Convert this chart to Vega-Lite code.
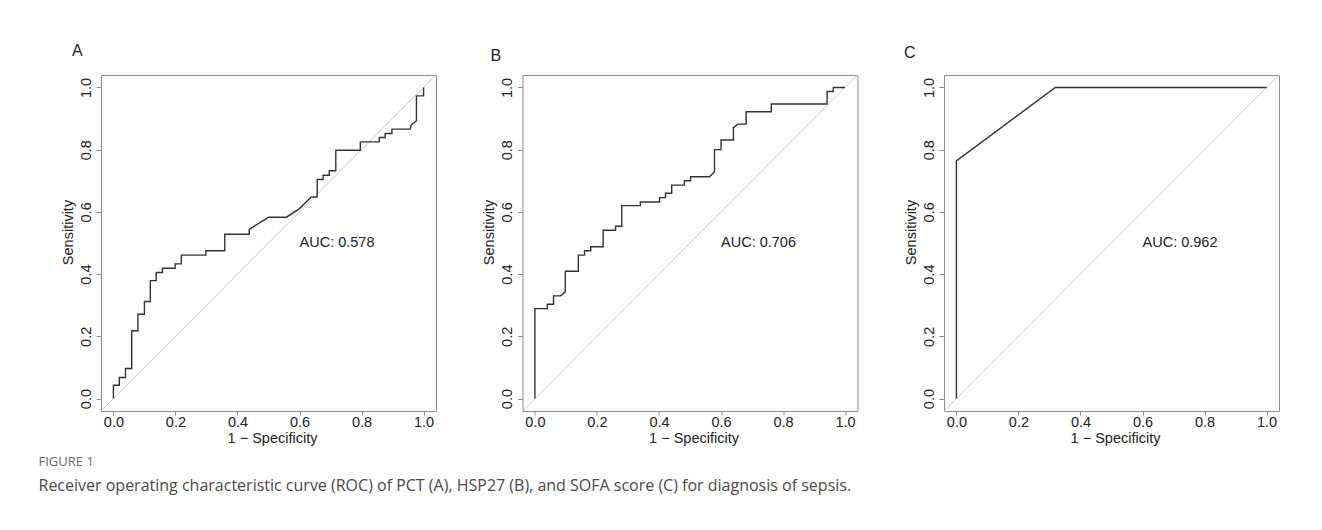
{
  "$schema": "https://vega.github.io/schema/vega-lite/v6.json",
  "padding": {"left": 38, "top": 42, "right": 0, "bottom": 20},
  "background": "white",
  "datasets": {
    "diag": [{"x": -0.04, "y": -0.04}, {"x": 1.04, "y": 1.04}],
    "auc": [
      {"panel": "A", "x": 0.6, "y": 0.5, "label": "AUC: 0.578"},
      {"panel": "B", "x": 0.6, "y": 0.5, "label": "AUC: 0.706"},
      {"panel": "C", "x": 0.6, "y": 0.5, "label": "AUC: 0.962"}
    ],
    "rocA": [
      {"i": 0, "fpr": 0, "tpr": 0}, {"i": 1, "fpr": 0, "tpr": 0.043}, {"i": 2, "fpr": 0.019, "tpr": 0.043},
      {"i": 3, "fpr": 0.019, "tpr": 0.0675}, {"i": 4, "fpr": 0.039, "tpr": 0.0675}, {"i": 5, "fpr": 0.039, "tpr": 0.0965},
      {"i": 6, "fpr": 0.059, "tpr": 0.0965}, {"i": 7, "fpr": 0.059, "tpr": 0.218}, {"i": 8, "fpr": 0.079, "tpr": 0.218},
      {"i": 9, "fpr": 0.079, "tpr": 0.271}, {"i": 10, "fpr": 0.1, "tpr": 0.271}, {"i": 11, "fpr": 0.1, "tpr": 0.312},
      {"i": 12, "fpr": 0.119, "tpr": 0.312}, {"i": 13, "fpr": 0.119, "tpr": 0.379}, {"i": 14, "fpr": 0.138, "tpr": 0.379},
      {"i": 15, "fpr": 0.138, "tpr": 0.405}, {"i": 16, "fpr": 0.158, "tpr": 0.405}, {"i": 17, "fpr": 0.158, "tpr": 0.419},
      {"i": 18, "fpr": 0.199, "tpr": 0.419}, {"i": 19, "fpr": 0.199, "tpr": 0.433}, {"i": 20, "fpr": 0.219, "tpr": 0.433},
      {"i": 21, "fpr": 0.219, "tpr": 0.461}, {"i": 22, "fpr": 0.298, "tpr": 0.461}, {"i": 23, "fpr": 0.298, "tpr": 0.475},
      {"i": 24, "fpr": 0.359, "tpr": 0.475}, {"i": 25, "fpr": 0.359, "tpr": 0.528}, {"i": 26, "fpr": 0.438, "tpr": 0.528},
      {"i": 27, "fpr": 0.438, "tpr": 0.544}, {"i": 28, "fpr": 0.5, "tpr": 0.583}, {"i": 29, "fpr": 0.558, "tpr": 0.583},
      {"i": 30, "fpr": 0.598, "tpr": 0.609}, {"i": 31, "fpr": 0.638, "tpr": 0.648}, {"i": 32, "fpr": 0.657, "tpr": 0.648},
      {"i": 33, "fpr": 0.657, "tpr": 0.704}, {"i": 34, "fpr": 0.676, "tpr": 0.704}, {"i": 35, "fpr": 0.676, "tpr": 0.718},
      {"i": 36, "fpr": 0.696, "tpr": 0.718}, {"i": 37, "fpr": 0.696, "tpr": 0.732}, {"i": 38, "fpr": 0.717, "tpr": 0.732},
      {"i": 39, "fpr": 0.717, "tpr": 0.798}, {"i": 40, "fpr": 0.796, "tpr": 0.798}, {"i": 41, "fpr": 0.796, "tpr": 0.825},
      {"i": 42, "fpr": 0.857, "tpr": 0.825}, {"i": 43, "fpr": 0.857, "tpr": 0.839}, {"i": 44, "fpr": 0.876, "tpr": 0.839},
      {"i": 45, "fpr": 0.876, "tpr": 0.852}, {"i": 46, "fpr": 0.898, "tpr": 0.852}, {"i": 47, "fpr": 0.898, "tpr": 0.866},
      {"i": 48, "fpr": 0.957, "tpr": 0.866}, {"i": 49, "fpr": 0.96, "tpr": 0.879}, {"i": 50, "fpr": 0.977, "tpr": 0.893},
      {"i": 51, "fpr": 0.977, "tpr": 0.973}, {"i": 52, "fpr": 1, "tpr": 0.973}, {"i": 53, "fpr": 1, "tpr": 1}
    ],
    "rocB": [
      {"i": 0, "fpr": 0, "tpr": 0}, {"i": 1, "fpr": 0, "tpr": 0.289}, {"i": 2, "fpr": 0.04, "tpr": 0.289},
      {"i": 3, "fpr": 0.04, "tpr": 0.303}, {"i": 4, "fpr": 0.06, "tpr": 0.303}, {"i": 5, "fpr": 0.06, "tpr": 0.33},
      {"i": 6, "fpr": 0.083, "tpr": 0.33}, {"i": 7, "fpr": 0.098, "tpr": 0.343}, {"i": 8, "fpr": 0.098, "tpr": 0.409},
      {"i": 9, "fpr": 0.14, "tpr": 0.409}, {"i": 10, "fpr": 0.14, "tpr": 0.461}, {"i": 11, "fpr": 0.16, "tpr": 0.461},
      {"i": 12, "fpr": 0.16, "tpr": 0.475}, {"i": 13, "fpr": 0.18, "tpr": 0.475}, {"i": 14, "fpr": 0.18, "tpr": 0.488},
      {"i": 15, "fpr": 0.22, "tpr": 0.488}, {"i": 16, "fpr": 0.22, "tpr": 0.541}, {"i": 17, "fpr": 0.26, "tpr": 0.541},
      {"i": 18, "fpr": 0.26, "tpr": 0.554}, {"i": 19, "fpr": 0.28, "tpr": 0.554}, {"i": 20, "fpr": 0.28, "tpr": 0.62},
      {"i": 21, "fpr": 0.34, "tpr": 0.62}, {"i": 22, "fpr": 0.34, "tpr": 0.632}, {"i": 23, "fpr": 0.402, "tpr": 0.632},
      {"i": 24, "fpr": 0.402, "tpr": 0.646}, {"i": 25, "fpr": 0.421, "tpr": 0.646}, {"i": 26, "fpr": 0.421, "tpr": 0.66},
      {"i": 27, "fpr": 0.441, "tpr": 0.66}, {"i": 28, "fpr": 0.441, "tpr": 0.686}, {"i": 29, "fpr": 0.482, "tpr": 0.686},
      {"i": 30, "fpr": 0.482, "tpr": 0.7}, {"i": 31, "fpr": 0.502, "tpr": 0.7}, {"i": 32, "fpr": 0.502, "tpr": 0.713},
      {"i": 33, "fpr": 0.563, "tpr": 0.713}, {"i": 34, "fpr": 0.579, "tpr": 0.729}, {"i": 35, "fpr": 0.579, "tpr": 0.8},
      {"i": 36, "fpr": 0.6, "tpr": 0.8}, {"i": 37, "fpr": 0.6, "tpr": 0.831}, {"i": 38, "fpr": 0.64, "tpr": 0.831},
      {"i": 39, "fpr": 0.64, "tpr": 0.871}, {"i": 40, "fpr": 0.654, "tpr": 0.882}, {"i": 41, "fpr": 0.681, "tpr": 0.882},
      {"i": 42, "fpr": 0.681, "tpr": 0.922}, {"i": 43, "fpr": 0.762, "tpr": 0.922}, {"i": 44, "fpr": 0.762, "tpr": 0.947},
      {"i": 45, "fpr": 0.942, "tpr": 0.947}, {"i": 46, "fpr": 0.942, "tpr": 0.987}, {"i": 47, "fpr": 0.962, "tpr": 0.987},
      {"i": 48, "fpr": 0.962, "tpr": 1}, {"i": 49, "fpr": 1, "tpr": 1}
    ],
    "rocC": [
      {"i": 0, "fpr": 0, "tpr": 0}, {"i": 1, "fpr": 0, "tpr": 0.764}, {"i": 2, "fpr": 0.319, "tpr": 1}, {"i": 3, "fpr": 1, "tpr": 1}
    ]
  },
  "title": {
    "text": "FIGURE 1",
    "subtitle": "Receiver operating characteristic curve (ROC) of PCT (A), HSP27 (B), and SOFA score (C) for diagnosis of sepsis.",
    "orient": "bottom",
    "anchor": "start",
    "frame": "bounds",
    "baseline": "top",
    "dx": -21,
    "offset": 11,
    "font": "Open Sans",
    "fontSize": 13,
    "fontWeight": "normal",
    "color": "#6a6a6a",
    "subtitleFont": "Open Sans",
    "subtitleFontSize": 16,
    "subtitleColor": "#4a4a4a",
    "subtitlePadding": 9
  },
  "spacing": 86.5,
  "bounds": "flush",
  "hconcat": [
    {
      "width": 335, "height": 336,
      "title": {"text": "A", "anchor": "start", "frame": "group", "dx": -29, "offset": 1, "baseline": "alphabetic", "fontSize": 16, "fontWeight": "normal", "font": "Liberation Sans", "color": "#222222"},
      "layer": [
        {
          "data": {"name": "diag"},
          "mark": {"type": "line", "color": "#c8c8c8", "strokeWidth": 1},
          "encoding": {
            "x": {"field": "x", "type": "quantitative", "scale": {"domain": [-0.04, 1.04], "nice": false, "zero": false}, "axis": {"title": "1 − Specificity", "values": [0, 0.2, 0.4, 0.6, 0.8, 1], "format": ".1f"}},
            "y": {"field": "y", "type": "quantitative", "scale": {"domain": [-0.04, 1.04], "nice": false, "zero": false}, "axis": {"title": "Sensitivity", "values": [0, 0.2, 0.4, 0.6, 0.8, 1], "format": ".1f"}}
          }
        },
        {
          "data": {"name": "rocA"},
          "mark": {"type": "line", "color": "#333333", "strokeWidth": 1.4},
          "encoding": {
            "x": {"field": "fpr", "type": "quantitative"},
            "y": {"field": "tpr", "type": "quantitative"},
            "order": {"field": "i", "type": "quantitative"}
          }
        },
        {
          "data": {"name": "auc"},
          "transform": [{"filter": "datum.panel == 'A'"}],
          "mark": {"type": "text", "align": "left", "baseline": "middle", "fontSize": 14.5, "font": "Liberation Sans", "color": "#222222"},
          "encoding": {
            "x": {"field": "x", "type": "quantitative"},
            "y": {"field": "y", "type": "quantitative"},
            "text": {"field": "label"}
          }
        }
      ]
    },
    {
      "width": 335, "height": 336,
      "title": {"text": "B", "anchor": "start", "frame": "group", "dx": -32, "offset": -4, "baseline": "alphabetic", "fontSize": 16, "fontWeight": "normal", "font": "Liberation Sans", "color": "#222222"},
      "layer": [
        {
          "data": {"name": "diag"},
          "mark": {"type": "line", "color": "#c8c8c8", "strokeWidth": 1},
          "encoding": {
            "x": {"field": "x", "type": "quantitative", "scale": {"domain": [-0.04, 1.04], "nice": false, "zero": false}, "axis": {"title": "1 − Specificity", "values": [0, 0.2, 0.4, 0.6, 0.8, 1], "format": ".1f"}},
            "y": {"field": "y", "type": "quantitative", "scale": {"domain": [-0.04, 1.04], "nice": false, "zero": false}, "axis": {"title": "Sensitivity", "values": [0, 0.2, 0.4, 0.6, 0.8, 1], "format": ".1f"}}
          }
        },
        {
          "data": {"name": "rocB"},
          "mark": {"type": "line", "color": "#333333", "strokeWidth": 1.4},
          "encoding": {
            "x": {"field": "fpr", "type": "quantitative"},
            "y": {"field": "tpr", "type": "quantitative"},
            "order": {"field": "i", "type": "quantitative"}
          }
        },
        {
          "data": {"name": "auc"},
          "transform": [{"filter": "datum.panel == 'B'"}],
          "mark": {"type": "text", "align": "left", "baseline": "middle", "fontSize": 14.5, "font": "Liberation Sans", "color": "#222222"},
          "encoding": {
            "x": {"field": "x", "type": "quantitative"},
            "y": {"field": "y", "type": "quantitative"},
            "text": {"field": "label"}
          }
        }
      ]
    },
    {
      "width": 335, "height": 336,
      "title": {"text": "C", "anchor": "start", "frame": "group", "dx": -40, "offset": -1, "baseline": "alphabetic", "fontSize": 16, "fontWeight": "normal", "font": "Liberation Sans", "color": "#222222"},
      "layer": [
        {
          "data": {"name": "diag"},
          "mark": {"type": "line", "color": "#c8c8c8", "strokeWidth": 1},
          "encoding": {
            "x": {"field": "x", "type": "quantitative", "scale": {"domain": [-0.04, 1.04], "nice": false, "zero": false}, "axis": {"title": "1 − Specificity", "values": [0, 0.2, 0.4, 0.6, 0.8, 1], "format": ".1f"}},
            "y": {"field": "y", "type": "quantitative", "scale": {"domain": [-0.04, 1.04], "nice": false, "zero": false}, "axis": {"title": "Sensitivity", "values": [0, 0.2, 0.4, 0.6, 0.8, 1], "format": ".1f"}}
          }
        },
        {
          "data": {"name": "rocC"},
          "mark": {"type": "line", "color": "#333333", "strokeWidth": 1.4},
          "encoding": {
            "x": {"field": "fpr", "type": "quantitative"},
            "y": {"field": "tpr", "type": "quantitative"},
            "order": {"field": "i", "type": "quantitative"}
          }
        },
        {
          "data": {"name": "auc"},
          "transform": [{"filter": "datum.panel == 'C'"}],
          "mark": {"type": "text", "align": "left", "baseline": "middle", "fontSize": 14.5, "font": "Liberation Sans", "color": "#222222"},
          "encoding": {
            "x": {"field": "x", "type": "quantitative"},
            "y": {"field": "y", "type": "quantitative"},
            "text": {"field": "label"}
          }
        }
      ]
    }
  ],
  "config": {
    "font": "Liberation Sans",
    "view": {"stroke": "#8c8c8c", "strokeWidth": 1},
    "axis": {
      "domain": false, "grid": false, "tickColor": "#8c8c8c", "tickSize": 4, "tickWidth": 1,
      "labelFont": "Liberation Sans", "labelFontSize": 14.5, "labelColor": "#222222",
      "titleFont": "Liberation Sans", "titleFontSize": 14.5, "titleFontWeight": "normal", "titleColor": "#222222",
      "labelFlush": false, "labelOverlap": false
    },
    "axisX": {"labelPadding": 0, "titlePadding": 2.5, "titleX": 171},
    "axisY": {"tickSize": 5, "labelAngle": -90, "labelAlign": "center", "labelBaseline": "bottom", "labelPadding": 3, "titlePadding": 3, "titleY": 157}
  }
}
